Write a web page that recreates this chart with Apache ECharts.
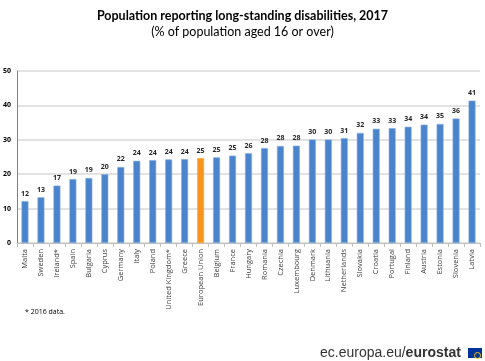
<!DOCTYPE html>
<html><head><meta charset="utf-8">
<script src="https://cdn.jsdelivr.net/npm/echarts@6/dist/echarts.min.js"></script>
<style>html,body{margin:0;padding:0;background:#fff}#c{width:485px;height:361px}</style>
</head><body><div id="c"></div>
<script>
var categories = ["Malta","Sweden","Ireland*","Spain","Bulgaria","Cyprus","Germany","Italy","Poland","United Kingdom*","Greece","European Union","Belgium","France","Hungary","Romania","Czechia","Luxembourg","Denmark","Lithuania","Netherlands","Slovakia","Croatia","Portugal","Finland","Austria","Estonia","Slovenia","Latvia"];
var values = [12.2,13.3,16.7,18.6,18.9,20.0,22.1,23.9,24.1,24.3,24.4,24.7,24.9,25.4,26.1,27.6,28.2,28.3,30.1,30.1,30.5,32.0,33.2,33.4,33.8,34.4,34.6,36.2,41.4];
var highlight = "European Union";
var yTicks = [0,10,20,30,40,50];

var chart = echarts.init(document.getElementById('c'));
chart.setOption({
  animation:false,
  title:[{text:'Population reporting long-standing disabilities, 2017',left:'center',top:4,textStyle:{fontFamily:'Lato',fontWeight:'bold',fontSize:12.5,color:'#000'}},
         {text:'(% of population aged 16 or over)',left:'center',top:20,textStyle:{fontFamily:'Lato',fontWeight:'normal',fontSize:12.5,color:'#000'}}],
  grid:{left:17,right:5,top:71,bottom:118},
  xAxis:{type:'category',data:categories,
    axisLine:{lineStyle:{color:'#bfbfbf'}},
    axisTick:{show:true,lineStyle:{color:'#bfbfbf'},length:4},
    axisLabel:{interval:0,rotate:90,fontSize:7.5,color:'#404040',fontFamily:'Open Sans',margin:6}},
  yAxis:{type:'value',min:yTicks[0],max:yTicks[yTicks.length-1],interval:10,
    axisLine:{show:true,lineStyle:{color:'#7f7f7f'}},
    axisTick:{show:false},
    axisLabel:{fontSize:7,fontWeight:'bold',color:'#000',fontFamily:'Open Sans',margin:6},
    splitLine:{lineStyle:{color:'#d9d9d9',width:1.5}}},
  series:[{type:'bar',barWidth:7,
    data:values.map(function(v,i){return {value:v,itemStyle:{color:categories[i]===highlight?'#f7941d':'#4a84cc',borderColor:categories[i]===highlight?'#f9ad4d':'#8db3e2',borderWidth:0.6}};}),
    label:{show:true,position:'top',distance:4,fontSize:7,fontWeight:'bold',color:'#262626',fontFamily:'Open Sans',formatter:function(p){return Math.round(p.value);}}}],
  graphic:[
    {type:'text',left:25,top:308,style:{text:'* 2016 data.',fontSize:7,fill:'#000',fontFamily:'Open Sans'}},
    {type:'text',left:320,top:346,style:{rich:{a:{fontSize:14,fill:'#333',fontFamily:'Liberation Sans'},b:{fontSize:14,fontWeight:'bold',fill:'#333',fontFamily:'Liberation Sans'}},text:'{a|ec.europa.eu/}{b|eurostat}'}},
    {type:'rect',left:468,top:348,shape:{width:14,height:10},style:{fill:'#003399'}},
    {type:'circle',left:472,top:350,shape:{r:3},style:{fill:'none',stroke:'#ffcc00',lineWidth:1}}
  ]
});
</script></body></html>
